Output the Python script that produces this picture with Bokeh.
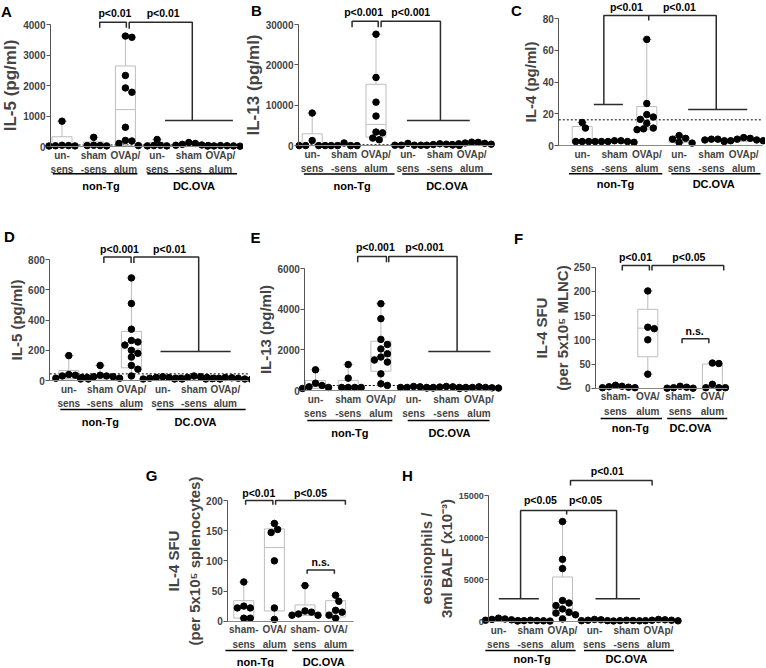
from bokeh.plotting import figure
from bokeh.layouts import row, column, Spacer
from bokeh.models import Range1d, FixedTicker, LinearAxis
from bokeh.embed import file_html
from bokeh.resources import INLINE
from bokeh.core.properties import value

FONT = "Liberation Sans"

# ---------------- data ----------------
CATS6 = ["un-\nsens", "sham\n-sens", "OVAp/\nalum", "un-\nsens", "sham\n-sens", "OVAp/\nalum"]
CATS4 = ["sham-\nsens", "OVA/\nalum", "sham-\nsens", "OVA/\nalum"]
GROUPS = ["non-Tg", "DC.OVA"]

# box stats: (low whisker, q1, median, q3, high whisker)
A_vals = [[830, 40, 30, 25, 20, 15], [300, 40, 30, 30, 20],
          [3620, 3580, 2330, 1920, 1780, 630, 200, 180, 100, 30],
          [230, 40, 30, 20, 20], [130, 100, 70, 50, 40, 30], [30, 25, 20, 20, 15, 10]]
A_box = [(10, 15, 30, 320, 830), (10, 20, 30, 150, 300), (30, 150, 1210, 2640, 3620),
         (20, 25, 30, 130, 230), (30, 40, 60, 110, 130), (10, 15, 20, 25, 30)]
A_lod = 50
A_ticks = [0, 1000, 2000, 3000, 4000]
A_ylabel = "IL-5 (pg/ml)"
A_p = ["p<0.01", "p<0.01"]

B_vals = [[8100, 1300, 50, 50, 50, 50], [700, 50, 50, 50, 50],
          [27600, 16900, 10800, 7350, 3400, 3200, 1900, 1500],
          [600, 150, 150, 150, 150], [500, 400, 300, 200, 150, 100],
          [900, 850, 700, 600, 500, 400, 300]]
B_box = [(50, 50, 60, 2975, 8100), (50, 50, 50, 700, 700), (1500, 2150, 5290, 15200, 27600),
         (150, 150, 150, 500, 600), (100, 150, 250, 400, 500), (300, 400, 600, 850, 900)]
B_lod = 250
B_ticks = [0, 10000, 20000, 30000]
B_ylabel = "IL-13 (pg/ml)"
B_p = ["p<0.001", "p<0.001"]

C_vals = [[14.5, 11, 2.5, 2.5, 2.5, 2.5], [3, 3, 2.5, 2.5, 2, 2.5],
          [67, 26.5, 19.5, 18, 16.5, 14, 11, 10.5, 10],
          [6.3, 4.5, 4, 2, 1.5], [4, 4, 3.5, 3], [5, 4.5, 4, 3.5, 3, 3, 2.5]]
C_box = [(2.5, 2.5, 2.5, 12, 14.5), (2, 2.5, 2.5, 3, 3), (10, 11.2, 16, 24.6, 67),
         (1.5, 2, 4, 5.5, 6.3), (3, 3.2, 3.6, 4, 4), (2.5, 3, 3.5, 4.5, 5)]
C_lod = 16.2
C_ticks = [0, 20, 40, 60, 80]
C_ylabel = "IL-4 (pg/ml)"
C_p = ["p<0.01", "p<0.01"]

D_vals = [[165, 40, 35, 30, 20, 15, 10], [100, 35, 30, 25, 25, 20, 15, 10],
          [680, 510, 340, 265, 255, 235, 200, 180, 155, 100, 75, 30],
          [25, 20, 20, 15, 15, 10, 10], [30, 25, 20, 20, 15, 15, 10, 10],
          [20, 18, 15, 15, 12, 10, 10, 8]]
D_box = [(10, 15, 30, 66, 165), (10, 15, 25, 35, 100), (30, 84, 210, 325, 680),
         (10, 12, 15, 20, 25), (10, 12, 18, 24, 30), (8, 10, 13, 15, 20)]
D_lod = 44
D_ticks = [0, 200, 400, 600, 800]
D_ylabel = "IL-5 (pg/ml)"
D_p = ["p<0.001", "p<0.01"]

E_vals = [[1020, 360, 250, 180, 150, 100], [1280, 610, 150, 150, 150, 150],
          [4280, 3540, 2520, 2270, 2050, 1810, 1650, 1500, 1400, 820, 330, 250],
          [200, 180, 150, 150, 150, 120], [200, 180, 170, 150, 150, 150, 120],
          [180, 150, 150, 130, 120, 120, 100]]
E_box = [(100, 110, 200, 490, 1020), (150, 150, 150, 500, 1280), (250, 950, 1680, 2430, 4280),
         (120, 150, 150, 180, 200), (120, 150, 150, 180, 200), (100, 120, 130, 150, 180)]
E_lod = 247
E_ticks = [0, 2000, 4000, 6000]
E_ylabel = "IL-13 (pg/ml)"
E_p = ["p<0.001", "p<0.001"]

F_vals = [[6, 4, 3, 2, 1, 1], [201, 126, 123, 100, 29], [4, 2, 1, 0, 0], [52, 51, 8, 1, 1, 1]]
F_box = [(1, 1, 2, 4, 6), (29, 65, 124, 163, 201), (0, 0, 1, 2, 4), (1, 1, 4, 50, 52)]
F_ticks = [0, 50, 100, 150, 200, 250]
F_ylabel = "IL-4 SFU\n(per 5x10\u2075 MLNC)"
F_p = ["p<0.01", "p<0.05", "n.s."]

G_vals = [[65, 25, 22, 22, 5, 5], [162, 152, 147, 100, 22, 3], [59, 17, 15, 12, 10, 10],
          [43, 33, 18, 15, 10, 5]]
G_box = [(5, 5, 21, 34, 65), (3, 17, 122, 153, 162), (10, 10, 14, 27, 59), (5, 7, 15, 34, 43)]
G_ticks = [0, 50, 100, 150, 200]
G_ylabel = "IL-4 SFU\n(per 5x10\u2075 splenocytes)"
G_p = ["p<0.01", "p<0.05", "n.s."]

H_vals = [[400, 300, 250, 200, 150, 100], [150, 100, 100, 80, 60, 50],
          [11900, 7400, 6300, 2500, 2200, 1900, 1500, 1100, 1000, 800, 300],
          [250, 200, 150, 100, 100], [150, 120, 100, 80, 60], [250, 200, 150, 150, 100, 80]]
H_box = [(100, 100, 200, 300, 400), (50, 60, 90, 100, 150), (300, 700, 1500, 5300, 11900),
         (100, 100, 150, 200, 250), (60, 80, 100, 120, 150), (80, 100, 150, 150, 250)]
H_ticks = [0, 5000, 10000, 15000]
H_ylabel = "eosinophils /\n3ml BALF (x10\u207b\u00b3)"
H_p = ["p<0.05", "p<0.05", "p<0.01"]

# ---------------- layout geometry (page pixels) ----------------
GEOM = {
    "A": dict(box=(0, 0, 243, 212), frame=(50, 237), y0=146, ycal=(24, 4000), x0=61.5, dx=31.7,
              letter=(6, 11), lab=17, tick=10),
    "B": dict(box=(243, 0, 505, 212), frame=(298, 493), y0=145.3, ycal=(24, 30000), x0=311.7, dx=31.9,
              letter=(256, 10), lab=17, tick=10),
    "C": dict(box=(505, 0, 765, 212), frame=(558.3, 761.7), y0=145, ycal=(18.3, 80), x0=581.7, dx=32.3,
              letter=(516, 10), lab=15, tick=10),
    "D": dict(box=(0, 212, 250, 442), frame=(49.3, 248.3), y0=380, ycal=(259.3, 800), x0=68.3, dx=31.3,
              letter=(9, 236), lab=15, tick=10),
    "E": dict(box=(250, 212, 505, 442), frame=(304.3, 491.7), y0=390, ycal=(268.3, 6000), x0=315, dx=32.7,
              letter=(255, 237), lab=15, tick=10),
    "F": dict(box=(505, 212, 765, 442), frame=(595, 726.7), y0=387.7, ycal=(266.7, 250), x0=615, dx=32.3,
              letter=(518, 238), lab=15, tick=10),
    "G": dict(box=(140, 442, 400, 667), frame=(227.3, 353.3), y0=620.7, ycal=(500, 200), x0=243.3, dx=30.6,
              letter=(151, 475), lab=15, tick=10),
    "H": dict(box=(400, 442, 700, 667), frame=(488.3, 673.3), y0=621, ycal=(495, 15000), x0=498, dx=32,
              letter=(407, 475), lab=15, tick=9),
}

# annotation geometry in (category index, axis value)
ANN = {
    "A": dict(lines=[[(1.19, 3890), (1.19, 4075), (2.03, 4075), (2.03, 3890)],
                     [(2.12, 3860), (2.12, 4075), (4.11, 4075), (4.11, 852)],
                     [(3.25, 852), (5.39, 852)]],
              texts=[(1.67, 4384), (3.19, 4384)],
              under=[(-0.29, 2.38, -895), (2.69, 5.52, -895)],
              groups=[(1.23, -1279), (4.16, -1279)]),
    "B": dict(lines=[[(1.25, 29330), (1.25, 30800), (2.07, 30800), (2.07, 29330)],
                     [(2.16, 29330), (2.16, 30800), (4.02, 30800), (4.02, 6260)],
                     [(2.97, 6260), (4.94, 6260)]],
              texts=[(1.61, 33040), (3.09, 33040)],
              under=[(-0.26, 2.58, -6950), (2.82, 5.64, -6950)],
              groups=[(1.25, -9820), (4.23, -9820)]),
    "C": dict(lines=[[(0.36, 25.9), (1.26, 25.9)],
                     [(0.67, 25.9), (0.67, 82.1), (4.15, 82.1), (4.15, 22.7)],
                     [(2.06, 82.1), (2.06, 79)],
                     [(3.28, 22.7), (5.11, 22.7)]],
              texts=[(1.37, 87.2), (3.01, 87.2)],
              under=[(-0.41, 2.48, -17.9), (2.76, 5.52, -17.9)],
              groups=[(1.03, -24.6), (4.07, -24.6)]),
    "D": dict(lines=[[(1.12, 778), (1.12, 818), (1.99, 818), (1.99, 778)],
                     [(2.08, 778), (2.08, 818), (4.15, 818), (4.15, 192)],
                     [(2.93, 192), (5.17, 192)]],
              texts=[(1.62, 873), (3.22, 873)],
              under=[(-0.27, 2.35, -192), (2.8, 5.65, -192)],
              groups=[(1.01, -272), (4.05, -272)]),
    "E": dict(lines=[[(1.29, 6326), (1.29, 6607), (2.17, 6607), (2.17, 6326)],
                     [(2.24, 6326), (2.24, 6607), (4.33, 6607), (4.33, 1923)],
                     [(3.45, 1923), (5.35, 1923)]],
              texts=[(1.83, 7066), (3.34, 7066)],
              under=[(-0.25, 2.35, -1479), (2.82, 5.32, -1479)],
              groups=[(1.05, -2071), (4.1, -2071)]),
    "F": dict(lines=[[(0.21, 243), (0.21, 253.5), (1.05, 253.5), (1.05, 243)],
                     [(1.13, 243), (1.13, 253.5), (3.35, 253.5), (3.35, 243)],
                     [(2.06, 93), (2.06, 102), (2.89, 102), (2.89, 93)]],
              texts=[(0.62, 270.7), (2.27, 270.7), (2.45, 119)],
              under=[(-0.46, 1.44, -62.6), (1.6, 3.46, -62.6)],
              groups=[(0.46, -83), (2.32, -83)]),
    "G": dict(lines=[[(0.06, 193), (0.06, 200), (0.95, 200), (0.95, 193)],
                     [(1.04, 193), (1.04, 200), (3.32, 200), (3.32, 193)],
                     [(2.07, 78.5), (2.07, 85), (2.96, 85), (2.96, 78.5)]],
              texts=[(0.49, 212.8), (2.18, 212.8), (2.51, 97.8)],
              under=[(-0.6, 1.42, -48.6), (1.58, 3.59, -48.6)],
              groups=[(0.38, -66.8), (2.61, -66.8)]),
    "H": dict(lines=[[(2.25, 16190), (2.25, 16786), (4.8, 16786), (4.8, 16190)],
                     [(0.01, 2700), (1.26, 2700)],
                     [(0.69, 2700), (0.69, 13214), (3.69, 13214), (3.69, 2700)],
                     [(2.13, 13214), (2.13, 12738)],
                     [(3.03, 2700), (4.42, 2700)]],
              texts=[(1.31, 14405), (2.72, 14405), (3.4, 17976)],
              under=[(-0.41, 2.41, -3452), (2.67, 5.48, -3452)],
              groups=[(1.05, -4440), (4.0, -4440)]),
}

DATA = {
    "A": (CATS6, A_vals, A_box, A_lod, A_ticks, A_ylabel, A_p),
    "B": (CATS6, B_vals, B_box, B_lod, B_ticks, B_ylabel, B_p),
    "C": (CATS6, C_vals, C_box, C_lod, C_ticks, C_ylabel, C_p),
    "D": (CATS6, D_vals, D_box, D_lod, D_ticks, D_ylabel, D_p),
    "E": (CATS6, E_vals, E_box, E_lod, E_ticks, E_ylabel, E_p),
    "F": (CATS4, F_vals, F_box, None, F_ticks, F_ylabel, F_p),
    "G": (CATS4, G_vals, G_box, None, G_ticks, G_ylabel, G_p),
    "H": (CATS6, H_vals, H_box, None, H_ticks, H_ylabel, H_p),
}

BOX_COL = "#bdbdbd"
LINE_COL = "#2b2b2b"


def swarm(vals, k, dx, diam=6.5):
    placed = []
    offs = [0.0] * len(vals)
    order = sorted(range(len(vals)), key=lambda j: -vals[j])
    for j in order:
        y = vals[j] * k
        best = 0.0
        for step in range(0, 60):
            cands = [0.0] if step == 0 else [step * diam * 0.5, -step * diam * 0.5]
            ok = None
            for xc in cands:
                if all((xc - px) ** 2 + (y - py) ** 2 >= (diam * 0.98) ** 2 for px, py in placed):
                    ok = xc
                    break
            if ok is not None:
                best = ok
                break
        placed.append((best, y))
        offs[j] = best / dx
    return offs


def txt(p, xs, ys, texts, size, align="center"):
    p.text(x=xs, y=ys, text=texts, text_font=value(FONT), text_font_style="bold",
           text_font_size=size, text_align=align, text_baseline="middle", text_color="black")


def make_panel(key):
    cats, vals, box, lod, ticks, ylabel, ptexts = DATA[key]
    g = GEOM[key]
    a = ANN[key]
    l, t, r, b = g["box"]
    Lx, Rx = g["frame"]
    y0 = g["y0"]
    ytp, ytv = g["ycal"]
    k = (y0 - ytp) / ytv
    x0, dx = g["x0"], g["dx"]
    W = r - l
    H = b - t
    xl = (Lx - x0) / dx
    xr = (Rx - x0) / dx

    p = figure(width=W, height=H,
               x_range=Range1d((l - x0) / dx, (r - x0) / dx),
               y_range=Range1d((y0 - b) / k, (y0 - t) / k),
               min_border=0, min_border_left=0, min_border_right=0,
               min_border_top=0, min_border_bottom=0,
               x_axis_type=None, y_axis_type=None, outline_line_color=None,
               output_backend="svg", toolbar_location=None)
    p.title.visible = False

    yax = LinearAxis(ticker=FixedTicker(ticks=ticks), bounds=(0, ticks[-1]), axis_label=ylabel,
                     fixed_location=xl)
    yax.axis_label_text_font = FONT
    yax.axis_label_text_font_style = "bold"
    yax.axis_label_text_font_size = "%dpx" % g["lab"]
    yax.axis_label_standoff = 0
    yax.major_label_text_font = FONT
    yax.major_label_text_font_style = "bold"
    yax.major_label_text_font_size = "%dpx" % g["tick"]
    yax.major_label_standoff = 1
    yax.major_tick_out = 4
    yax.major_tick_in = 0
    yax.minor_tick_out = 0
    yax.minor_tick_in = 0
    yax.axis_line_color = "#555555"
    yax.major_tick_line_color = "#555555"
    p.add_layout(yax, "left")

    n = len(cats)
    xax = LinearAxis(ticker=FixedTicker(ticks=list(range(n))),
                     major_label_overrides={i: c for i, c in enumerate(cats)},
                     fixed_location=0, bounds=(xl, xr))
    xax.major_label_text_font = FONT
    xax.major_label_text_font_style = "bold"
    xax.major_label_text_font_size = "10px"
    xax.major_label_text_line_height = 1.3
    xax.major_label_standoff = 3
    xax.major_tick_out = 0
    xax.major_tick_in = 0
    xax.minor_tick_out = 0
    xax.minor_tick_in = 0
    xax.axis_line_color = "#8a8a8a"
    p.add_layout(xax, "below")

    if lod is not None:
        p.segment(x0=[xl], x1=[xr], y0=[lod], y1=[lod], line_color="black",
                  line_dash="2 2", line_width=1)

    bw = 10.0 / dx
    cw = 5.0 / dx
    for i, (lo, q1, med, q3, hi) in enumerate(box):
        p.quad(left=[i - bw], right=[i + bw], bottom=[q1], top=[q3],
               fill_alpha=0, line_color=BOX_COL, line_width=1)
        p.segment(x0=[i - bw, i, i, i - cw, i - cw], y0=[med, q3, q1, hi, lo],
                  x1=[i + bw, i, i, i + cw, i + cw], y1=[med, hi, lo, hi, lo],
                  line_color=BOX_COL, line_width=1)

    xs, ys = [], []
    for i, v in enumerate(vals):
        offs = swarm(v, k, dx)
        xs += [i + o for o in offs]
        ys += list(v)
    p.scatter(xs, ys, size=6.5, color="black")

    p.multi_line(xs=[[pt[0] for pt in ln] for ln in a["lines"]],
                 ys=[[pt[1] for pt in ln] for ln in a["lines"]],
                 line_color=LINE_COL, line_width=1.5)
    txt(p, [tt[0] for tt in a["texts"]], [tt[1] for tt in a["texts"]], ptexts, "10.5px")
    p.segment(x0=[u[0] for u in a["under"]], x1=[u[1] for u in a["under"]],
              y0=[u[2] for u in a["under"]], y1=[u[2] for u in a["under"]],
              line_color="black", line_width=1.5)
    txt(p, [gp[0] for gp in a["groups"]], [gp[1] for gp in a["groups"]], GROUPS, "11px")

    lx, ly = g["letter"]
    txt(p, [(lx - x0) / dx], [(y0 - ly) / k], [key], "15px")
    return p


figs = {kk: make_panel(kk) for kk in "ABCDEFGH"}
layout = column(row(figs["A"], figs["B"], figs["C"]),
                row(figs["D"], figs["E"], figs["F"]),
                row(Spacer(width=140, height=figs["G"].height), figs["G"], figs["H"]))

open("out.html", "w").write(file_html(layout, INLINE))
